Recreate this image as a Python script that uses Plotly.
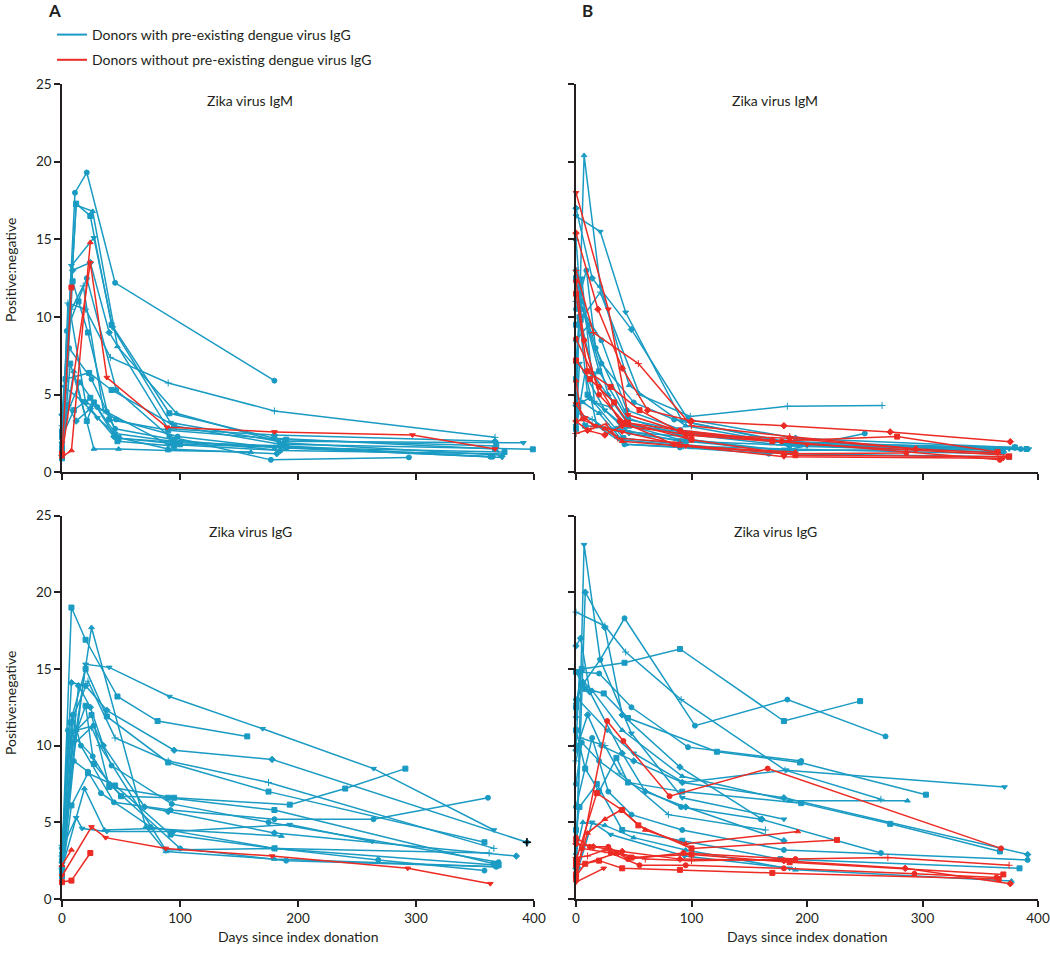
import plotly.graph_objects as go

# ---------------- DATA ----------------
# Panel A, Zika virus IgM
A_IGM_WITH_DAYS = [
    [0, 11, 21, 45, 180], [0, 12, 24, 42, 91, 180, 367], [0, 12, 26, 47, 97, 187, 373],
    [0, 8, 27, 43, 92, 183, 391], [0, 9, 24, 40, 90, 180, 367], [0, 5, 20, 41, 90, 180, 367],
    [0, 4, 21, 46, 91, 177, 294], [0, 3, 23, 42, 95, 185, 399], [0, 6, 20, 38, 48, 100, 190, 365],
    [0, 7, 21, 27, 47, 95], [0, 10, 27, 48, 90, 160], [0, 2, 17, 30, 45, 93, 190, 373],
    [0, 5, 12, 24, 44, 90, 182], [0, 8, 18, 35, 90, 185, 370], [0, 3, 15, 30, 46, 98, 180, 363],
    [0, 9, 14, 22, 40, 90, 190, 368], [0, 6, 25, 45, 95, 185], [0, 10, 24, 48, 100, 190, 375],
]
A_IGM_WITH_VALS = [
    [1.0, 18.0, 19.3, 12.2, 5.9], [1.5, 17.3, 16.5, 9.5, 3.8, 2.2, 1.5], [2.0, 17.2, 16.8, 8.1, 3.8, 1.9, 1.1],
    [1.2, 13.3, 15.1, 9.3, 3.2, 2.0, 1.9], [3.7, 13.0, 13.5, 9.0, 2.8, 2.4, 2.0], [1.1, 10.9, 10.5, 7.4, 5.75, 3.95, 2.25],
    [1.3, 9.1, 12.5, 5.3, 2.3, 0.8, 0.96], [2.6, 6.0, 6.4, 5.3, 3.0, 1.8, 1.48], [1.4, 10.8, 4.5, 3.9, 2.2, 1.9, 1.7, 1.0],
    [0.9, 7.0, 3.3, 4.5, 2.0, 1.7], [1.9, 6.5, 1.5, 1.5, 1.4, 1.3], [2.7, 5.5, 4.6, 3.5, 2.5, 2.0, 1.6, 0.96],
    [1.1, 4.3, 3.3, 4.1, 2.3, 1.5, 1.2], [3.0, 10.5, 12.0, 4.0, 1.8, 1.4, 1.2], [2.2, 3.5, 5.8, 4.2, 3.4, 2.3, 1.6, 1.0],
    [1.6, 12.3, 11.0, 9.0, 3.4, 2.7, 2.1, 1.7], [1.0, 8.0, 6.0, 2.8, 2.1, 1.4], [2.3, 4.0, 4.8, 2.2, 1.8, 1.6, 1.3],
]
A_IGM_WITHOUT_DAYS = [[0, 8], [0, 8, 24], [0, 24, 38, 89, 180, 297, 367]]
A_IGM_WITHOUT_VALS = [[1.2, 11.9], [1.0, 1.4, 14.8], [1.1, 13.5, 6.1, 2.9, 2.6, 2.4, 1.5]]

# Panel A, Zika virus IgG
A_IGG_WITH_DAYS = [
    [0, 8, 20, 47, 81, 157], [0, 12, 25, 71, 88, 180, 368], [0, 20, 40, 91, 170, 264, 366],
    [0, 8, 20, 38, 95, 178, 394], [0, 10, 22, 45, 90, 175, 366], [0, 12, 27, 42, 93, 175, 370],
    [0, 6, 25, 40, 95, 193, 240, 291], [0, 9, 16, 44, 92, 180, 264, 361], [0, 8, 22, 45, 92, 180, 370],
    [0, 19, 36, 76, 186], [0, 12, 17, 38, 95, 193, 263], [0, 14, 24, 35, 70, 90, 180, 385],
    [0, 6, 25, 32, 88, 182, 362], [0, 10, 22, 33, 75, 180, 268, 358], [0, 7, 20, 38, 90, 175, 358],
    [0, 5, 26, 40, 100, 190, 368], [0, 9, 20, 27, 50, 90, 180, 366],
]
A_IGG_WITH_VALS = [
    [2.5, 19.0, 16.9, 13.2, 11.6, 10.6], [2.2, 11.0, 17.7, 4.7, 3.1, 2.6, 2.1], [3.2, 15.3, 15.1, 13.2, 11.1, 8.5, 4.5],
    [2.8, 14.1, 13.9, 12.3, 9.7, 9.1, 3.7], [2.0, 12.0, 14.2, 10.5, 9.0, 7.6, 3.3], [1.8, 11.0, 11.3, 8.7, 6.2, 5.0, 2.4],
    [2.5, 10.5, 12.0, 7.3, 6.6, 6.15, 7.2, 8.5], [3.0, 12.0, 10.0, 6.3, 5.8, 5.2, 5.2, 6.6], [1.5, 6.1, 8.2, 7.4, 4.2, 3.3, 2.2],
    [2.0, 7.2, 4.5, 4.6, 4.1], [3.3, 5.3, 4.6, 4.4, 4.4, 4.85, 3.75], [2.4, 13.9, 12.5, 10.0, 6.0, 5.7, 4.3, 2.8],
    [3.5, 9.8, 11.2, 10.0, 3.2, 3.3, 3.0], [1.4, 9.0, 8.3, 6.9, 4.7, 3.3, 2.55, 1.85], [1.9, 11.5, 15.0, 11.9, 8.9, 7.0, 3.7],
    [2.1, 11.0, 9.3, 7.5, 3.3, 2.5, 2.1], [1.7, 10.2, 12.6, 8.8, 6.7, 6.6, 5.8, 2.3],
]
A_IGG_WITHOUT_DAYS = [[0, 8, 24], [0, 8], [0, 25, 37, 88, 178, 293, 363]]
A_IGG_WITHOUT_VALS = [[1.1, 1.2, 3.0], [2.2, 3.2], [1.5, 4.7, 4.0, 3.3, 2.8, 2.0, 1.0]]

# Panel B, Zika virus IgM
B_IGM_WITH_DAYS = [
    [0, 7, 21, 46, 95, 185, 370], [0, 21, 43, 92, 180, 375], [0, 14, 48, 97, 190, 380],
    [0, 6, 21, 55, 99, 183, 265], [0, 5, 22, 44, 100, 195, 385], [0, 4, 15, 46, 95, 180, 390],
    [0, 9, 17, 45, 100, 190], [0, 3, 10, 41, 90, 180, 375], [0, 6, 20, 43, 100, 185],
    [0, 3, 25, 45, 95], [0, 12, 38, 90, 185, 370], [0, 2, 14, 40, 93, 183, 365],
    [0, 8, 18, 42, 90, 167, 250], [0, 4, 20, 45, 90, 180, 380], [0, 11, 22, 50, 85, 170],
    [0, 2, 8, 36, 90], [0, 3, 12, 28, 47, 140], [0, 5, 16, 30, 46, 96, 200, 392],
]
B_IGM_WITH_VALS = [
    [3.0, 20.4, 12.0, 5.6, 3.0, 1.8, 1.4], [16.5, 15.5, 10.3, 3.3, 2.0, 1.5], [17.0, 12.5, 9.2, 3.4, 2.2, 1.6],
    [11.0, 10.0, 11.6, 5.0, 3.6, 4.25, 4.3], [13.0, 10.5, 8.5, 4.0, 2.5, 1.8, 1.5], [12.5, 9.8, 6.3, 3.0, 2.0, 1.4, 1.5],
    [10.5, 13.0, 8.0, 3.5, 2.1, 1.3], [9.5, 10.0, 5.0, 2.2, 1.8, 1.2, 1.0], [5.0, 4.5, 3.8, 1.8, 1.6, 1.3],
    [3.0, 7.0, 4.0, 2.6, 2.3], [4.3, 4.8, 3.2, 2.5, 1.7, 1.3], [2.5, 3.8, 3.4, 2.1, 1.7, 1.5, 1.2],
    [2.8, 6.5, 3.0, 1.8, 1.6, 1.2, 2.5], [6.0, 11.0, 6.5, 3.4, 2.7, 1.9, 1.6], [8.5, 9.5, 7.0, 4.5, 3.4, 2.1],
    [2.8, 4.2, 3.0, 2.8, 2.0], [15.0, 12.0, 9.0, 5.0, 3.0, 2.2], [7.0, 12.5, 4.5, 4.2, 2.5, 2.0, 1.7, 1.5],
]
B_IGM_WITHOUT_DAYS = [
    [0, 28, 45, 92, 200, 375], [0, 19, 40, 62, 100, 180, 272, 376], [0, 15, 54, 100, 185, 295, 365],
    [0, 7, 20, 42, 90, 178, 367], [0, 10, 30, 55, 95, 170, 278, 365], [0, 20, 38, 85, 180, 286],
    [0, 12, 33, 45, 100, 190, 375], [0, 5, 25, 40, 90, 190], [0, 8, 16, 40, 95, 180, 370],
    [0, 10, 25, 40, 100, 185, 294], [0, 13, 26, 36, 90],
]
B_IGM_WITHOUT_VALS = [
    [18.0, 10.5, 3.7, 2.6, 1.8, 1.1], [15.4, 10.5, 6.7, 4.0, 3.3, 3.0, 2.6, 1.97], [13.0, 9.0, 7.0, 3.0, 2.3, 1.5, 1.25],
    [12.3, 8.5, 5.0, 3.2, 2.7, 2.0, 0.8], [11.5, 6.5, 5.5, 4.0, 2.4, 2.0, 2.3, 1.3], [8.6, 5.5, 3.3, 1.8, 1.2, 1.25],
    [7.2, 6.0, 4.5, 3.2, 2.1, 1.1, 1.0], [5.9, 3.4, 2.8, 2.0, 1.7, 1.3], [4.4, 3.5, 3.0, 2.6, 1.7, 1.0, 0.9],
    [3.3, 2.7, 2.4, 3.0, 2.4, 2.2, 1.5], [2.5, 2.8, 3.1, 2.2, 1.9],
]

# Panel B, Zika virus IgG
B_IGG_WITH_DAYS = [
    [0, 7, 21, 48, 92, 180], [0, 8, 25, 40, 90, 161], [0, 25, 43, 91, 181, 264],
    [0, 6, 21, 42, 103, 183, 268], [0, 5, 42, 90, 180, 246], [0, 3, 20, 48, 97, 195],
    [0, 8, 24, 45, 122, 194, 303], [0, 6, 14, 40, 92, 185, 287], [0, 2, 27, 50, 93, 182, 371],
    [0, 10, 22, 50, 92, 180, 391], [0, 4, 25, 38, 80, 164], [0, 5, 20, 45, 91, 160, 264],
    [0, 8, 20, 35, 45, 92, 195, 272, 367], [0, 14, 28, 48, 92, 180, 391], [0, 3, 18, 40, 92, 177, 384],
    [0, 6, 25, 50, 95, 190, 377], [0, 2, 14, 30, 94, 185], [0, 4, 12, 40, 60, 95, 180],
]
B_IGG_WITH_VALS = [
    [1.5, 23.1, 15.6, 10.8, 6.6, 5.2], [2.0, 20.0, 17.7, 12.0, 8.6, 5.2], [18.7, 17.8, 16.1, 13.0, 8.4, 6.5],
    [13.0, 14.0, 15.6, 18.3, 11.3, 13.0, 10.6], [12.5, 15.0, 15.4, 16.3, 11.6, 12.9], [10.0, 14.8, 14.7, 12.5, 9.9, 9.0],
    [14.8, 13.7, 13.4, 11.8, 9.6, 8.9, 6.8], [12.8, 14.2, 13.6, 11.0, 8.0, 6.4, 6.4], [11.8, 13.0, 11.0, 9.5, 7.6, 8.4, 7.3],
    [9.7, 12.0, 10.0, 9.0, 7.6, 6.6, 2.9], [9.0, 10.5, 10.0, 8.2, 5.5, 4.5], [7.5, 10.2, 9.0, 7.6, 6.0, 5.2, 3.0],
    [11.0, 8.5, 7.0, 9.2, 7.6, 7.0, 6.25, 4.9, 3.1], [6.0, 10.5, 7.0, 5.5, 4.5, 3.2, 2.55], [4.5, 6.0, 7.5, 4.5, 3.8, 2.6, 2.0],
    [3.0, 5.0, 4.8, 4.0, 3.2, 1.9, 1.17], [1.4, 2.0, 5.0, 4.2, 2.8, 2.0], [16.5, 17.0, 13.5, 9.5, 7.0, 6.0, 3.8],
]
B_IGG_WITHOUT_DAYS = [
    [0, 27, 41, 81, 166, 368], [0, 18, 40, 54, 100, 226], [0, 10, 25, 39, 60, 95, 192],
    [0, 24], [0, 15, 40, 90, 180, 285, 376], [0, 10, 25, 60, 100, 270, 375],
    [0, 5, 30, 55, 95, 180, 293, 364], [0, 20, 40, 90, 170, 366], [0, 12, 28, 45, 93, 190],
    [0, 8, 35, 48, 100, 185, 370],
]
B_IGG_WITHOUT_VALS = [
    [1.3, 11.6, 10.3, 6.7, 8.5, 3.3], [2.5, 6.9, 5.8, 4.8, 3.3, 3.85], [1.8, 4.3, 5.2, 5.8, 4.5, 3.6, 4.4],
    [1.1, 2.0], [3.6, 3.4, 3.1, 2.6, 2.5, 2.0, 1.0], [2.7, 2.8, 3.2, 2.6, 2.5, 2.7, 2.2],
    [3.8, 3.3, 3.0, 2.2, 2.2, 2.0, 1.65, 1.4], [2.2, 2.5, 2.0, 1.9, 1.7, 1.3], [4.0, 3.4, 3.4, 2.6, 3.0, 2.6],
    [1.5, 2.3, 3.0, 2.7, 2.9, 2.4, 1.6],
]

LEGEND_LABELS = ["Donors with pre-existing dengue virus IgG", "Donors without pre-existing dengue virus IgG"]
X_TICKS = [0, 100, 200, 300, 400]
Y_TICKS = [0, 5, 10, 15, 20, 25]

# ---------------- STYLE ----------------
BLUE = "#1a9bc3"
RED = "#ec2b24"
INK = "#231f20"
FONT = "Lato"
FS = 14
W, H = 1050, 961
SYMBOLS = ["circle", "square", "triangle-up", "triangle-down", "diamond", "cross-thin", "circle", "square"]

fig = go.Figure()


def add_group(days_list, vals_list, color, xa, ya, offset=0):
    for i, (d, v) in enumerate(zip(days_list, vals_list)):
        sym = SYMBOLS[(i + offset) % len(SYMBOLS)]
        fig.add_trace(go.Scatter(
            x=d, y=v, mode="lines+markers", xaxis=xa, yaxis=ya,
            line=dict(color=color, width=1.5),
            marker=dict(symbol=sym, size=5, color=color, line=dict(width=1, color=color)),
            showlegend=False, hoverinfo="skip", cliponaxis=False,
        ))


add_group(A_IGM_WITH_DAYS, A_IGM_WITH_VALS, BLUE, "x", "y")
add_group(A_IGM_WITHOUT_DAYS, A_IGM_WITHOUT_VALS, RED, "x", "y", 1)
add_group(B_IGM_WITH_DAYS, B_IGM_WITH_VALS, BLUE, "x2", "y2", 2)
add_group(B_IGM_WITHOUT_DAYS, B_IGM_WITHOUT_VALS, RED, "x2", "y2", 3)
add_group(A_IGG_WITH_DAYS, A_IGG_WITH_VALS, BLUE, "x3", "y3", 1)
add_group(A_IGG_WITHOUT_DAYS, A_IGG_WITHOUT_VALS, RED, "x3", "y3", 1)
add_group(B_IGG_WITH_DAYS, B_IGG_WITH_VALS, BLUE, "x4", "y4", 3)
add_group(B_IGG_WITHOUT_DAYS, B_IGG_WITHOUT_VALS, RED, "x4", "y4", 0)

# black end marker on one donor line (panel A IgG)
fig.add_trace(go.Scatter(
    x=[A_IGG_WITH_DAYS[3][-1]], y=[A_IGG_WITH_VALS[3][-1]], mode="markers", xaxis="x3", yaxis="y3",
    marker=dict(symbol="cross-thin", size=6, line=dict(width=1.5, color="black")),
    showlegend=False, hoverinfo="skip", cliponaxis=False,
))

# legend entries
for lbl, col in zip(LEGEND_LABELS, [BLUE, RED]):
    fig.add_trace(go.Scatter(x=[None], y=[None], mode="lines", name=lbl,
                             line=dict(color=col, width=2), legendgroup=lbl))

xA = [62 / W, 534 / W]
xB = [576 / W, 1038 / W]
yTop = [(H - 472.3) / H, (H - 84) / H]
yBot = [(H - 899) / H, (H - 515.5) / H]

axis_common = dict(showline=True, linecolor=INK, linewidth=1.5, ticks="outside", ticklen=6,
                   tickwidth=1.5, tickcolor=INK, showgrid=False, zeroline=False,
                   tickfont=dict(family=FONT, size=13.5, color=INK))
xcommon = dict(axis_common, range=[0, 400], tickvals=X_TICKS)
ycommon = dict(axis_common, range=[0, 25], tickvals=Y_TICKS)

fig.update_layout(
    width=W, height=H, margin=dict(l=0, r=0, t=0, b=0, autoexpand=False),
    paper_bgcolor="white", plot_bgcolor="white",
    font=dict(family=FONT, size=FS, color=INK),
    xaxis=dict(xcommon, domain=xA, anchor="y", showticklabels=False),
    yaxis=dict(ycommon, domain=yTop, anchor="x"),
    xaxis2=dict(xcommon, domain=xB, anchor="y2", showticklabels=False),
    yaxis2=dict(ycommon, domain=yTop, anchor="x2", showticklabels=False),
    xaxis3=dict(xcommon, domain=xA, anchor="y3"),
    yaxis3=dict(ycommon, domain=yBot, anchor="x3"),
    xaxis4=dict(xcommon, domain=xB, anchor="y4"),
    yaxis4=dict(ycommon, domain=yBot, anchor="x4", showticklabels=False),
    legend=dict(x=52 / W, y=1 - 19 / H, xanchor="left", yanchor="top", bgcolor="rgba(0,0,0,0)",
                font=dict(family=FONT, size=FS, color=INK), tracegroupgap=4, itemwidth=30),
)


def ann(text, px, py, size=FS, bold=False, angle=0, xanchor="center"):
    fig.add_annotation(text=f"<b>{text}</b>" if bold else text, x=px / W, y=1 - py / H,
                       xref="paper", yref="paper", showarrow=False, textangle=angle,
                       xanchor=xanchor, yanchor="middle",
                       font=dict(family=FONT, size=size, color=INK))


ann("A", 54, 11, size=17, bold=True)
ann("B", 587, 11, size=17, bold=True)
ann("Zika virus IgM", 250, 100)
ann("Zika virus IgM", 775, 100)
ann("Zika virus IgG", 250, 531)
ann("Zika virus IgG", 775, 531)
ann("Positive:negative", 10, 270, angle=-90)
ann("Positive:negative", 10, 703, angle=-90)
ann("Days since index donation", 298, 936)
ann("Days since index donation", 807, 936)

fig.write_html("out.html", config={"displayModeBar": False},
               post_script="document.body.style.margin='0';document.body.style.overflow='hidden';")
